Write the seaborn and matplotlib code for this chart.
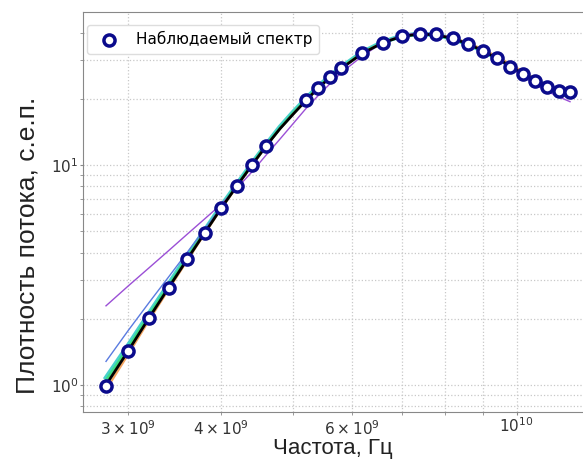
import numpy as np
import pandas as pd
import matplotlib
matplotlib.use('Agg')
import matplotlib.pyplot as plt
import seaborn as sns

# Observed spectrum (frequency in GHz, flux in s.f.u.)
freq_obs = [2.8, 3.0, 3.2, 3.4, 3.6, 3.8, 4.0, 4.2, 4.4, 4.6, 5.2, 5.4, 5.6, 5.8,
            6.2, 6.6, 7.0, 7.4, 7.8, 8.2, 8.6, 9.0, 9.4, 9.8, 10.2, 10.6, 11.0, 11.4, 11.8]
flux_obs = [0.99, 1.43, 2.02, 2.77, 3.73, 4.92, 6.38, 8.03, 10.0, 12.2, 19.75, 22.4, 25.1, 27.7,
            32.4, 35.9, 38.6, 39.6, 39.2, 37.6, 35.6, 33.0, 30.7, 28.0, 26.0, 24.1, 22.6, 21.7, 21.4]

# Model curves
freq_fit = [2.8, 3.0, 3.2, 3.4, 3.6, 3.8, 4.0, 4.2, 4.4, 4.6, 4.8, 5.0, 5.2, 5.4, 5.6, 5.8,
            6.2, 6.6, 7.0, 7.4, 7.8, 8.2, 8.6, 9.0, 9.4, 9.8, 10.2, 10.6, 11.0, 11.4, 11.8]
fit_black = [1.00, 1.43, 2.02, 2.77, 3.72, 4.90, 6.35, 8.02, 9.98, 12.2, 14.6, 17.0, 19.6, 22.3, 24.9, 27.4,
             32.2, 35.9, 38.4, 39.4, 39.0, 37.6, 35.5, 33.1, 30.6, 28.2, 25.9, 24.2, 22.8, 21.7, 20.8]
fit_teal = [1.08, 1.52, 2.12, 2.88, 3.85, 5.04, 6.50, 8.18, 10.15, 12.4, 14.9, 17.4, 20.0, 22.7, 25.3, 27.8,
            32.6, 36.2, 38.6, 39.5, 39.0, 37.5, 35.4, 33.0, 30.6, 28.3, 26.1, 24.3, 22.8, 21.6, 20.6]
fit_green = [1.05, 1.48, 2.08, 2.83, 3.79, 4.97, 6.42, 8.10, 10.05, 12.3, 14.7, 17.2, 19.8, 22.5, 25.1, 27.6,
             32.4, 36.0, 38.5, 39.4, 38.9, 37.5, 35.4, 33.0, 30.6, 28.2, 26.0, 24.2, 22.7, 21.6, 20.7]
fit_orange = [0.95, 1.38, 1.97, 2.72, 3.67, 4.86, 6.31, 7.98, 9.95, 12.15, 14.6, 17.0, 19.6, 22.3, 24.9, 27.4,
              32.3, 36.0, 38.5, 39.5, 39.2, 37.9, 35.9, 33.6, 31.2, 28.8, 26.5, 24.6, 23.0, 21.8, 20.8]
fit_blue = [1.28, 1.77, 2.37, 3.10, 4.00, 5.10, 6.42, 8.05, 9.98, 12.2, 14.6, 17.0, 19.6, 22.3, 24.9, 27.4,
            32.2, 35.9, 38.4, 39.4, 39.0, 37.6, 35.5, 33.1, 30.6, 28.2, 25.9, 24.2, 22.8, 21.7, 20.8]
fit_purple = [2.29, 2.82, 3.41, 4.08, 4.84, 5.68, 6.62, 7.83, 9.29, 11.1, 13.1, 15.4, 18.0, 20.6, 23.3, 26.2,
              31.3, 36.0, 38.9, 39.9, 39.4, 37.8, 35.6, 33.0, 30.3, 27.7, 25.3, 23.2, 21.6, 20.4, 19.4]

obs = pd.DataFrame({'f': np.array(freq_obs) * 1e9, 's': flux_obs})
fits = pd.DataFrame({'f': np.array(freq_fit) * 1e9, 'black': fit_black, 'teal': fit_teal,
                     'green': fit_green, 'orange': fit_orange, 'blue': fit_blue, 'purple': fit_purple})

fig = plt.figure(figsize=(5.83, 4.63), dpi=100)
ax = fig.add_axes([0.1419, 0.1108, 0.8765, 0.8633])

# model curves, widest first
sns.lineplot(data=fits, x='f', y='teal', ax=ax, color='#48d1cc', lw=3.2, sort=False)
sns.lineplot(data=fits, x='f', y='green', ax=ax, color='#3ddc84', lw=2.0, sort=False)
sns.lineplot(data=fits, x='f', y='orange', ax=ax, color='#f4a460', lw=1.6, sort=False)
sns.lineplot(data=fits, x='f', y='blue', ax=ax, color='#5a7be0', lw=1.0, sort=False)
sns.lineplot(data=fits, x='f', y='purple', ax=ax, color='#9b4fd6', lw=1.0, sort=False)
sns.lineplot(data=fits, x='f', y='black', ax=ax, color='black', lw=2.0, sort=False)

sns.scatterplot(data=obs, x='f', y='s', ax=ax, marker='o', s=64, facecolor='white',
                edgecolor='#0b0b8c', linewidth=2.5, label='Наблюдаемый спектр', zorder=5)

ax.set_xscale('log')
ax.set_yscale('log')
ax.set_xlim(2.605e9, 1.27e10)
ax.set_ylim(0.756, 49.6)

ax.grid(True, which='both', color='#c8c8c8', linestyle=':', linewidth=0.9)
for sp in ax.spines.values():
    sp.set_color('#888888')
ax.tick_params(which='both', colors='#888888', labelcolor='#333333', labelsize=11)
ax.tick_params(which='major', length=2.5, pad=0.5)
ax.tick_params(which='minor', length=2)

ax.set_xlabel('Частота, Гц', fontsize=16, family='Liberation Sans', color='#222222')
ax.set_ylabel('Плотность потока, с.е.п.', fontsize=19, family='Liberation Sans', color='#222222')
ax.xaxis.set_label_coords(0.49, -0.066)
ax.yaxis.set_label_coords(-0.084, 0.417)

ax.legend(loc='upper left', bbox_to_anchor=(0.009, 0.967), borderaxespad=0, fontsize=11,
          edgecolor='#dddddd', framealpha=1)

fig.savefig('out.png', dpi=100)
